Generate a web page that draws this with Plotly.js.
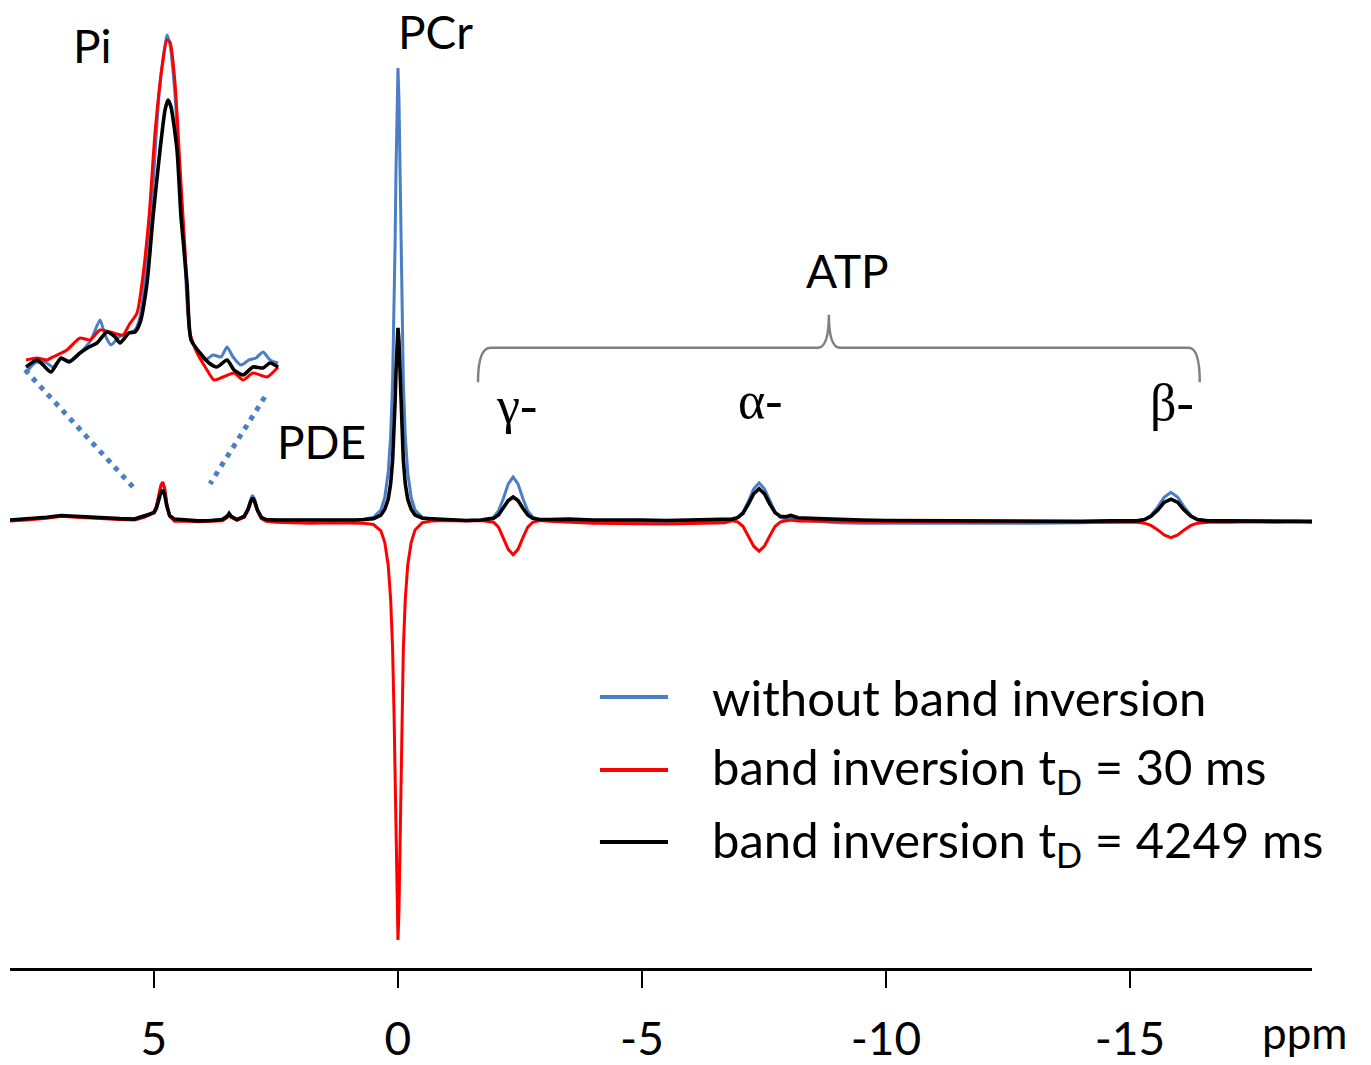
<!DOCTYPE html>
<html>
<head>
<meta charset="utf-8">
<script src="https://cdn.plot.ly/plotly-3.0.1.min.js"></script>
<style>html,body{margin:0;padding:0;background:#fff}#chart{width:1371px;height:1065px}</style>
</head>
<body>
<div id="chart"></div>
<script>
// ---- main spectrum (chemical shift in ppm, intensity relative to PCr without inversion = 100) ----
const ppm = [
  7.95, 7.6, 7.2, 6.9, 6.6, 6.3, 6.0, 5.7, 5.4, 5.2, 5.1,
  5.0, 4.95, 4.9, 4.86, 4.82, 4.78, 4.74, 4.68, 4.58,
  4.4, 4.1, 3.8, 3.6, 3.5, 3.46, 3.42, 3.3, 3.15, 3.07, 3.02, 2.98, 2.94, 2.88, 2.8, 2.7, 2.5,
  2.2, 1.8, 1.4, 1.0, 0.85,
  0.7, 0.5, 0.35, 0.27, 0.2, 0.15, 0.11, 0.08, 0.06, 0.04, 0.02, 0, -0.02, -0.04, -0.06, -0.08, -0.11, -0.15, -0.2, -0.27, -0.35, -0.5, -0.7,
  -1.0, -1.4, -1.7, -1.9,
  -1.96, -2.06, -2.16, -2.26, -2.36, -2.46, -2.56, -2.66, -2.76, -2.91,
  -3.1, -3.5, -4.0, -4.5, -5.0, -5.5, -6.0, -6.4, -6.7,
  -6.85, -6.96, -7.07, -7.18, -7.29, -7.40, -7.51, -7.62, -7.73, -7.84, -7.95, -8.05, -8.2,
  -8.6, -9.0, -9.5, -10.0, -11.0, -12.0, -13.0, -14.0, -14.6, -15.0,
  -15.14, -15.30, -15.43, -15.57, -15.70, -15.84, -15.98, -16.11, -16.25, -16.38, -16.6,
  -17.0, -17.5, -18.0, -18.4, -18.73
];
const withoutInversion = [
  0.0, 0.2, 0.5, 0.9, 0.8, 0.6, 0.4, 0.3, 0.2, 0.7, 1.1,
  1.7, 2.9, 5.2, 7.3, 8.2, 6.8, 3.6, 0.9, -0.1,
  0.0, -0.2, -0.1, 0.1, 0.8, 1.5, 0.8, 0.1, 0.9, 2.7, 4.5, 5.5, 4.7, 2.4, 0.6, 0.1, 0.0,
  0.0, -0.1, 0.0, -0.1, 0.0,
  0.1, 0.6, 2.2, 5.0, 10.5, 18.5, 30.5, 46.0, 60.5, 77.5, 93.4, 100, 93.4, 77.5, 60.5, 46.0, 30.5, 18.5, 10.5, 5.0, 2.2, 0.6, 0.1,
  0.0, -0.1, 0.0, 0.3,
  0.6, 2.0, 4.75, 8.0, 9.5, 8.0, 4.75, 2.0, 0.6, 0.0,
  0.0, 0.0, -0.2, -0.3, -0.4, -0.5, -0.5, -0.4, -0.3,
  0.2, 0.5, 1.7, 4.1, 6.9, 8.2, 6.9, 4.1, 1.7, 0.5, 0.2, 0.3, 0.0,
  -0.3, -0.6, -0.7, -0.7, -0.8, -0.8, -0.7, -0.6, -0.5, -0.4,
  -0.3, 0.1, 1.0, 2.9, 5.0, 6.1, 5.0, 2.9, 1.0, 0.1, -0.3,
  -0.4, -0.3, -0.4, -0.3, -0.4
];
const inversion30 = [
  -0.2, 0.0, 0.4, 0.8, 0.6, 0.4, 0.2, 0.1, 0.0, 0.6, 1.1,
  1.8, 3.0, 5.5, 7.6, 8.4, 7.0, 3.8, 0.8, -0.3,
  -0.2, -0.4, -0.3, -0.2, 0.5, 1.2, 0.6, -0.1, 0.6, 2.2, 3.8, 4.7, 4.0, 2.0, 0.3, -0.3, -0.5,
  -0.6, -0.7, -0.6, -0.7, -0.8,
  -0.7, -1.0, -2.4, -5.0, -10.0, -17.5, -28.5, -43.0, -56.5, -72.0, -86.8, -92.9, -86.8, -72.0, -56.5, -43.0, -28.5, -17.5, -10.0, -5.0, -2.2, -0.6, -0.2,
  -0.1, -0.2, -0.1, -0.3,
  -0.5, -1.6, -3.9, -6.5, -7.7, -6.5, -3.9, -1.6, -0.5, -0.1,
  -0.3, -0.5, -0.7, -0.8, -0.9, -0.9, -0.8, -0.7, -0.6,
  -0.2, -0.4, -1.4, -3.5, -5.8, -6.9, -5.8, -3.5, -1.4, -0.4, -0.1, 0.0, -0.2,
  -0.2, -0.3, -0.4, -0.4, -0.5, -0.5, -0.5, -0.5, -0.5, -0.5,
  -0.5, -0.7, -1.2, -2.2, -3.3, -3.9, -3.3, -2.2, -1.2, -0.7, -0.5,
  -0.5, -0.4, -0.5, -0.4, -0.5
];
const inversion4249 = [
  0.0, 0.2, 0.6, 1.0, 0.8, 0.6, 0.4, 0.3, 0.2, 0.8, 1.2,
  1.6, 2.6, 4.5, 6.0, 6.6, 5.6, 3.2, 1.0, 0.2,
  0.0, -0.2, -0.1, 0.1, 0.8, 1.4, 0.8, 0.1, 0.8, 2.4, 4.0, 4.9, 4.2, 2.2, 0.6, 0.1, 0.0,
  0.0, -0.1, 0.0, -0.1, 0.0,
  0.1, 0.3, 1.1, 2.4, 4.6, 8.0, 13.2, 19.7, 25.8, 33.0, 39.7, 42.5, 39.7, 33.0, 25.8, 19.7, 13.2, 8.0, 4.6, 2.4, 1.1, 0.4, 0.2,
  0.1, -0.1, 0.0, 0.3,
  0.4, 1.1, 2.6, 4.3, 5.1, 4.3, 2.6, 1.1, 0.4, 0.1,
  0.1, 0.2, 0.0, 0.1, 0.0, -0.1, 0.0, 0.1, 0.0,
  0.2, 0.5, 1.5, 3.5, 5.8, 6.9, 5.8, 3.5, 1.6, 0.8, 0.7, 1.0, 0.5,
  0.3, 0.1, 0.0, -0.1, -0.2, -0.3, -0.3, -0.3, -0.2, -0.2,
  -0.2, 0.1, 0.8, 2.2, 3.9, 4.6, 3.9, 2.2, 0.8, 0.1, -0.2,
  -0.2, -0.2, -0.3, -0.2, -0.3
];

// ---- Pi inset (zoomed region, own intensity units) ----
const insetPpmBlue = [5.595, 5.55, 5.50, 5.46, 5.42, 5.37, 5.32, 5.27, 5.225, 5.20, 5.17, 5.13, 5.08, 5.05, 5.025, 4.99, 4.96, 4.93, 4.90, 4.89, 4.875, 4.85, 4.825, 4.80, 4.775, 4.74, 4.70, 4.66, 4.62, 4.59, 4.56, 4.52, 4.48, 4.445, 4.41, 4.375, 4.335];
const insetBlue =      [12, 22, 23, 18, 26, 24, 33, 45, 65, 50, 40, 48, 52, 55, 68, 125, 200, 290, 340, 350, 340, 290, 205, 120, 50, 35, 25, 30, 28, 38, 28, 20, 25, 27, 33, 25, 22];
const insetPpmRed = [5.595, 5.54, 5.49, 5.46, 5.39, 5.325, 5.275, 5.225, 5.175, 5.11, 5.08, 5.04, 5.015, 4.98, 4.95, 4.915, 4.89, 4.875, 4.85, 4.825, 4.80, 4.775, 4.74, 4.69, 4.655, 4.61, 4.555, 4.51, 4.46, 4.39, 4.335];
const insetRed =      [25, 27, 25, 28, 35, 47, 45, 55, 53, 50, 60, 72, 102, 168, 252, 318, 345, 343, 302, 218, 135, 52, 32, 15, 5, 8, 12, 5, 12, 8, 18];
const insetPpmBlack = [5.595, 5.54, 5.51, 5.47, 5.42, 5.38, 5.325, 5.28, 5.24, 5.19, 5.15, 5.125, 5.08, 5.05, 5.025, 4.99, 4.96, 4.925, 4.90, 4.885, 4.87, 4.84, 4.82, 4.79, 4.77, 4.725, 4.68, 4.64, 4.59, 4.555, 4.51, 4.46, 4.41, 4.375, 4.335];
const insetBlack =      [18, 25, 20, 13, 27, 23, 32, 38, 42, 53, 48, 42, 52, 53, 62, 102, 168, 235, 275, 285, 278, 235, 168, 102, 45, 32, 22, 18, 25, 15, 10, 18, 17, 22, 18];

// ---- labels ----
const seriesNames = ['without band inversion', 'band inversion t<sub>D</sub> = 30 ms', 'band inversion t<sub>D</sub> = 4249 ms'];
const seriesColors = ['#4a7ec6', '#ff0000', '#000000'];
const tickVals = [5, 0, -5, -10, -15];
const tickText = ['5', '0', '-5', '-10', '-15'];
const peakLabels = ['Pi', 'PCr', 'PDE', 'ATP'];
const peakLabelPpm = [6.25, -0.76, 1.56, -9.22];
const peakLabelY = [105, 108, 17.3, 55.3];
const atpLabels = ['γ-', 'α-', 'β-'];
const atpLabelPpm = [-2.42, -7.42, -15.86];
const atpLabelY = [25.4, 26.5, 25.9];

const mainSeries = [withoutInversion, inversion30, inversion4249];
const insetX = [insetPpmBlue, insetPpmRed, insetPpmBlack];
const insetY = [insetBlue, insetRed, insetBlack];
const widths = [3, 3, 3.6];

const traces = [];
for (let i = 0; i < 3; i++) {
  traces.push({x: ppm, y: mainSeries[i], type: 'scatter', mode: 'lines', name: seriesNames[i],
    line: {color: seriesColors[i], width: widths[i]}, xaxis: 'x', yaxis: 'y', hoverinfo: 'skip', showlegend: false});
}
for (let i = 0; i < 3; i++) {
  traces.push({x: insetX[i], y: insetY[i], type: 'scatter', mode: 'lines', name: seriesNames[i] + ' (Pi)',
    line: {color: seriesColors[i], width: widths[i], shape: 'spline', smoothing: 0.6}, xaxis: 'x2', yaxis: 'y2', hoverinfo: 'skip', showlegend: false});
}

const annotations = [];
const labelFont = {family: 'Lato, "Open Sans", sans-serif', size: 46, color: '#000'};
for (let i = 0; i < peakLabels.length; i++) {
  annotations.push({x: peakLabelPpm[i], y: peakLabelY[i], xref: 'x', yref: 'y', text: peakLabels[i], showarrow: false, font: labelFont, xanchor: 'center', yanchor: 'middle'});
}
for (let i = 0; i < atpLabels.length; i++) {
  annotations.push({x: atpLabelPpm[i], y: atpLabelY[i], xref: 'x', yref: 'y', text: atpLabels[i], showarrow: false,
    font: {family: '"Liberation Serif", "DejaVu Serif", serif', size: 52, color: '#000'}, xanchor: 'center', yanchor: 'middle'});
}
annotations.push({x: 0.9946, y: -0.067, xref: 'paper', yref: 'paper', text: 'ppm', showarrow: false,
  font: {family: 'Lato, "Open Sans", sans-serif', size: 44, color: '#000'}, xanchor: 'center', yanchor: 'middle'});

// legend (manual, to match the long line samples)
const legendY = [0.2829, 0.2067, 0.1315];
const shapes = [];
for (let i = 0; i < 3; i++) {
  shapes.push({type: 'line', xref: 'paper', yref: 'paper', x0: 0.4531, x1: 0.5054, y0: legendY[i], y1: legendY[i],
    line: {color: seriesColors[i], width: 4}});
  annotations.push({x: 0.5376, y: legendY[i], xref: 'paper', yref: 'paper', text: seriesNames[i], showarrow: false,
    font: {family: 'Lato, "Open Sans", sans-serif', size: 49, color: '#000'}, xanchor: 'left', yanchor: 'middle'});
}
// ATP bracket
shapes.push({type: 'path', xref: 'x', yref: 'y',
  path: 'M -1.64,30.5 Q -1.64,38.1 -1.9,38.1 L -8.6,38.1 Q -8.83,38.1 -8.83,45.4 Q -8.83,38.1 -9.06,38.1 L -16.2,38.1 Q -16.43,38.1 -16.43,30.5',
  line: {color: '#808080', width: 2.5}});
// zoom guide lines
shapes.push({type: 'line', xref: 'x', yref: 'y', x0: 7.64, y0: 33.2, x1: 5.43, y1: 7.3, line: {color: '#4a7ec6', width: 5, dash: '5px,6px'}});
shapes.push({type: 'line', xref: 'x', yref: 'y', x0: 2.73, y0: 27.2, x1: 3.85, y1: 8.0, line: {color: '#4a7ec6', width: 5, dash: '5px,6px'}});

const layout = {
  width: 1371, height: 1065,
  margin: {l: 10, r: 59, t: 10, b: 97},
  paper_bgcolor: '#ffffff', plot_bgcolor: '#ffffff',
  showlegend: false,
  xaxis: {range: [7.95, -18.73], tickvals: tickVals, ticktext: tickText, ticks: 'outside', ticklen: 17, tickwidth: 2,
    tickcolor: '#000', showline: true, linecolor: '#000', linewidth: 3, showgrid: false, zeroline: false,
    tickfont: {family: 'Lato, "Open Sans", sans-serif', size: 46, color: '#000'}, ticklabelstandoff: 12, fixedrange: true},
  yaxis: {range: [-99.12, 112.83], visible: false, showgrid: false, zeroline: false, fixedrange: true},
  xaxis2: {domain: [0.01152, 0.2074], anchor: 'y2', range: [5.6, 4.325], visible: false, showgrid: false, zeroline: false},
  yaxis2: {domain: [0.6086, 0.9791], anchor: 'x2', range: [0, 355], visible: false, showgrid: false, zeroline: false},
  annotations: annotations,
  shapes: shapes
};

Plotly.newPlot('chart', traces, layout, {displayModeBar: false, staticPlot: true});
</script>
</body>
</html>
